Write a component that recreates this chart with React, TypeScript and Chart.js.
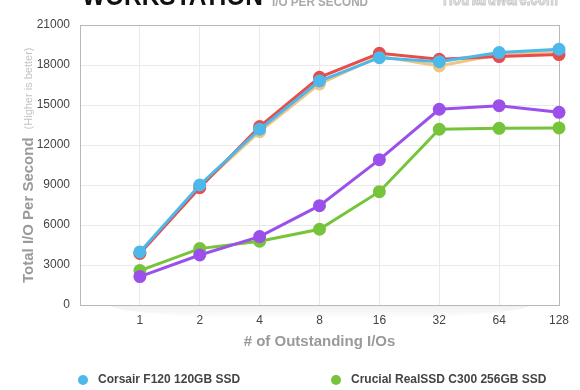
import React, { useEffect, useRef } from "react";
import { Chart, registerables } from "chart.js";

Chart.register(...registerables);

const categories = ["", "1", "2", "4", "8", "16", "32", "64", "128"];
const corsairF120 = [null, 3980, 9000, 13180, 16800, 18550, 18250, 18930, 19180];
const seriesRed = [null, 3870, 8800, 13380, 17080, 18880, 18430, 18630, 18780];
const seriesTan = [null, 3900, 8900, 13000, 16580, 18650, 17930, 18780, 19030];
const seriesPurple = [null, 2130, 3750, 5130, 7450, 10900, 14680, 14950, 14450];
const crucialC300 = [null, 2580, 4230, 4780, 5680, 8500, 13180, 13250, 13280];
const yTicks = [0, 3000, 6000, 9000, 12000, 15000, 18000, 21000];

const FONT = "'Liberation Sans', Arial, Helvetica, sans-serif";

const decorPlugin = {
  id: "decor",
  beforeDatasetsDraw(chart: any) {
    const { ctx, chartArea: a } = chart;
    ctx.save();
    ctx.strokeStyle = "#b8b8b8";
    ctx.lineWidth = 1;
    ctx.strokeRect(Math.round(a.left) + 0.5, Math.round(a.top) + 0.5, Math.round(a.right - a.left), Math.round(a.bottom - a.top));
    ctx.restore();
  },
  beforeDraw(chart: any) {
    const { ctx, chartArea: a } = chart;
    ctx.save();
    const cx = (a.left + a.right) / 2;
    const g = ctx.createLinearGradient(0, a.bottom, 0, a.bottom + 14);
    g.addColorStop(0, "rgba(0,0,0,0.06)");
    g.addColorStop(1, "rgba(0,0,0,0)");
    ctx.fillStyle = g;
    ctx.beginPath();
    ctx.ellipse(cx, a.bottom, (a.right - a.left) / 2 - 30, 14, 0, 0, Math.PI);
    ctx.fill();
    ctx.restore();
  },
  afterDraw(chart: any) {
    const { ctx, chartArea: a } = chart;
    ctx.save();
    // header
    ctx.textBaseline = "alphabetic";
    ctx.textAlign = "left";
    ctx.fillStyle = "#111";
    ctx.font = `bold 27px ${FONT}`;
    ctx.fillText("WORKSTATION", 82, 5, 181);
    ctx.fillStyle = "#aaa";
    ctx.font = `bold 12px ${FONT}`;
    ctx.fillText("I/O PER SECOND", 272, 5.5, 96);
    ctx.fillStyle = "#e4e4e4";
    ctx.strokeStyle = "#c4c4c4";
    ctx.lineWidth = 1;
    ctx.font = `bold 20px ${FONT}`;
    ctx.fillText("HotHardware.com", 443, 4.5, 115);
    ctx.strokeText("HotHardware.com", 443, 4.5, 115);

    // x title
    ctx.textAlign = "center";
    ctx.fillStyle = "#9a9a9a";
    ctx.font = `bold 15px ${FONT}`;
    ctx.fillText("# of Outstanding I/Os", (a.left + a.right) / 2, 346);

    // y title
    ctx.translate(33, 0);
    ctx.rotate(-Math.PI / 2);
    ctx.textAlign = "left";
    ctx.fillStyle = "#9a9a9a";
    ctx.font = `bold 15px ${FONT}`;
    ctx.fillText("Total I/O Per Second", -283, 0);
    const w = ctx.measureText("Total I/O Per Second").width;
    ctx.fillStyle = "#c4c4c4";
    ctx.font = `11px ${FONT}`;
    ctx.fillText("(Higher is better)", -283 + w + 8, -1);
    ctx.setTransform(1, 0, 0, 1, 0, 0);

    // legend (visible row)
    const items = [
      { x: 83, label: "Corsair F120 120GB SSD", color: "#4db8ea" },
      { x: 336, label: "Crucial RealSSD C300 256GB SSD", color: "#76c43a" },
    ];
    ctx.textAlign = "left";
    ctx.textBaseline = "middle";
    ctx.font = `bold 12px ${FONT}`;
    for (const it of items) {
      ctx.fillStyle = it.color;
      ctx.beginPath();
      ctx.arc(it.x, 380, 5, 0, Math.PI * 2);
      ctx.fill();
      ctx.fillStyle = "#444";
      ctx.fillText(it.label, it.x + 15, 380);
    }
    ctx.restore();
  },
};

function ds(label: string, data: (number | null)[], color: string, order: number) {
  return {
    label,
    data,
    borderColor: color,
    backgroundColor: color,
    pointBackgroundColor: color,
    pointBorderColor: color,
    borderWidth: 3,
    pointRadius: 5,
    pointHoverRadius: 5,
    tension: 0,
    order,
  };
}

export default function App() {
  const ref = useRef<HTMLCanvasElement>(null);
  useEffect(() => {
    if (!ref.current) return;
    const chart = new Chart(ref.current, {
      type: "line",
      data: {
        labels: categories,
        datasets: [
          ds("Corsair F120 120GB SSD", corsairF120, "#4db8ea", 0),
          ds("OCZ Vertex 2 100GB SSD", seriesRed, "#e84c4c", 1),
          ds("OCZ Agility 2 100GB SSD", seriesTan, "#f0c584", 2),
          ds("Intel X25-M G2 160GB SSD", seriesPurple, "#9b50ea", 3),
          ds("Crucial RealSSD C300 256GB SSD", crucialC300, "#76c43a", 4),
        ] as any,
      },
      options: {
        animation: false,
        responsive: false,
        maintainAspectRatio: false,
        layout: { padding: { top: 25, right: 21, left: 0, bottom: 0 } },
        plugins: { legend: { display: false }, tooltip: { enabled: false }, title: { display: false } },
        scales: {
          x: {
            type: "category",
            offset: false,
            grid: { color: "#e9e9e9", drawTicks: false },
            border: { display: false },
            ticks: { color: "#444", font: { family: FONT, size: 12 }, padding: 8, autoSkip: false, maxRotation: 0 },
            afterFit: (s: any) => { s.height = 85; },
          },
          y: {
            min: 0,
            max: 21000,
            grid: { color: "#e9e9e9", drawTicks: false },
            border: { display: false },
            afterBuildTicks: (s: any) => { s.ticks = yTicks.map((v) => ({ value: v })); },
            ticks: { color: "#444", font: { family: FONT, size: 12 }, padding: 10, callback: (v: any) => String(v) },
            afterFit: (s: any) => { s.width = 80; },
          },
        },
      } as any,
      plugins: [decorPlugin],
    });
    return () => chart.destroy();
  }, []);
  return (
    <div style={{ position: "fixed", left: 0, top: 0, width: 580, height: 390, background: "#fff" }}>
      <canvas ref={ref} width={580} height={390} style={{ width: 580, height: 390, display: "block" }} />
    </div>
  );
}
